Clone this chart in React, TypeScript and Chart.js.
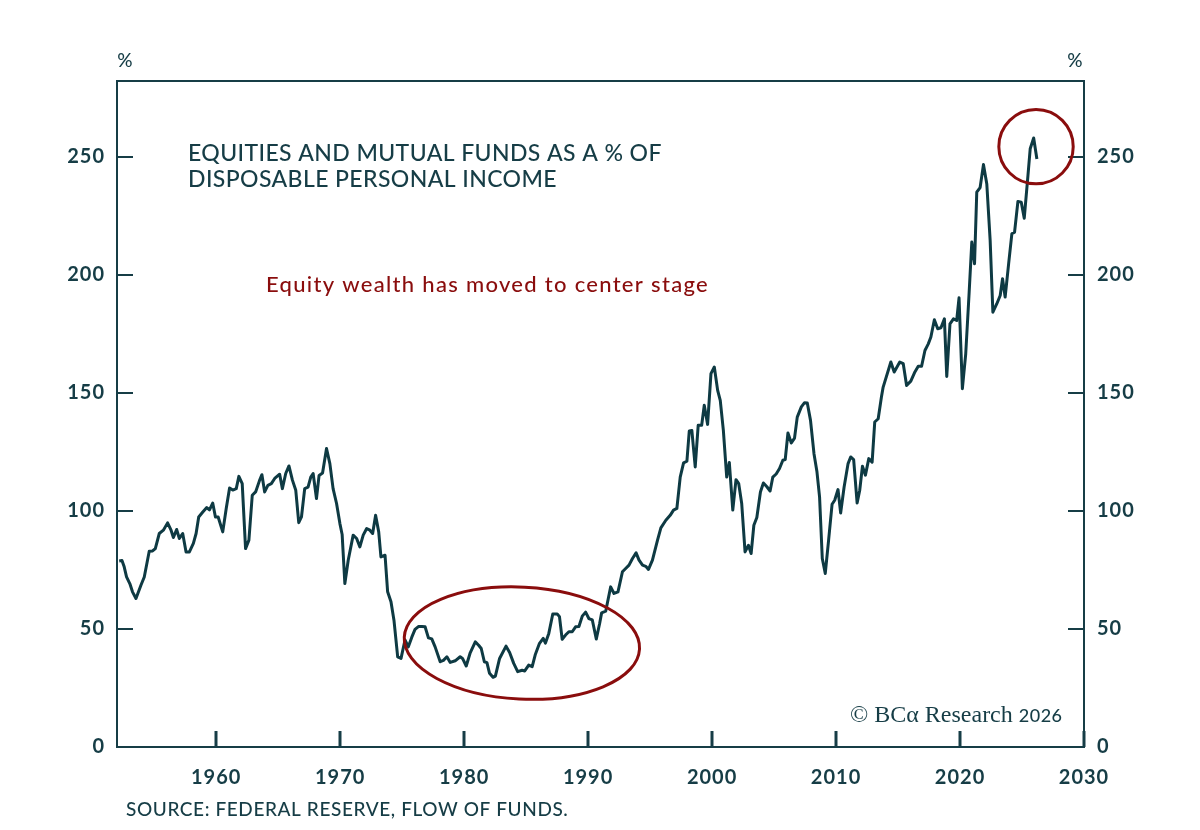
import React, { useEffect, useRef } from "react";
import { Chart, registerables } from "chart.js";

Chart.register(...registerables);

// ---- Data ----
const years = [
  1952.18, 1952.4, 1952.58, 1952.77, 1953.04, 1953.25, 1953.53, 1953.93, 1954.2, 1954.6,
  1954.87, 1955.09, 1955.41, 1955.74, 1956.08, 1956.36, 1956.55, 1956.81, 1957.03, 1957.3,
  1957.57, 1957.84, 1958.16, 1958.38, 1958.59, 1958.92, 1959.24, 1959.46, 1959.72, 1959.94,
  1960.16, 1960.53, 1960.81, 1961.08, 1961.34, 1961.62, 1961.83, 1962.1, 1962.37, 1962.64,
  1962.91, 1963.18, 1963.5, 1963.69, 1963.91, 1964.17, 1964.45, 1964.72, 1965.12, 1965.34,
  1965.61, 1965.87, 1966.15, 1966.42, 1966.66, 1966.88, 1967.14, 1967.41, 1967.63, 1967.82,
  1968.09, 1968.3, 1968.58, 1968.9, 1969.17, 1969.43, 1969.71, 1969.98, 1970.16, 1970.38,
  1970.65, 1971.05, 1971.33, 1971.59, 1971.86, 1972.14, 1972.4, 1972.62, 1972.86, 1973.11,
  1973.29, 1973.62, 1973.83, 1974.1, 1974.34, 1974.64, 1974.91, 1975.23, 1975.5, 1975.78,
  1976.04, 1976.31, 1976.59, 1976.85, 1977.12, 1977.39, 1977.66, 1978.07, 1978.33, 1978.61,
  1978.88, 1979.28, 1979.68, 1979.87, 1980.17, 1980.49, 1980.9, 1981.17, 1981.38, 1981.63,
  1981.84, 1982.05, 1982.33, 1982.52, 1982.86, 1983.38, 1983.67, 1984.0, 1984.32, 1984.68,
  1984.89, 1985.21, 1985.49, 1985.75, 1986.08, 1986.38, 1986.56, 1986.83, 1987.15, 1987.51,
  1987.69, 1987.91, 1988.18, 1988.45, 1988.72, 1988.99, 1989.26, 1989.53, 1989.8, 1990.06,
  1990.34, 1990.66, 1990.93, 1991.09, 1991.42, 1991.82, 1992.09, 1992.41, 1992.77, 1993.03,
  1993.3, 1993.58, 1993.87, 1994.11, 1994.39, 1994.65, 1994.87, 1995.19, 1995.6, 1995.87,
  1996.27, 1996.62, 1996.89, 1997.16, 1997.43, 1997.7, 1997.97, 1998.16, 1998.37, 1998.64,
  1998.88, 1999.16, 1999.37, 1999.64, 1999.91, 2000.18, 2000.45, 2000.66, 2000.91, 2001.18,
  2001.39, 2001.67, 2001.93, 2002.15, 2002.39, 2002.66, 2002.93, 2003.15, 2003.37, 2003.61,
  2003.9, 2004.14, 2004.42, 2004.68, 2004.9, 2005.17, 2005.44, 2005.71, 2005.9, 2006.12,
  2006.39, 2006.65, 2006.87, 2007.2, 2007.46, 2007.68, 2007.94, 2008.22, 2008.46, 2008.67,
  2008.89, 2009.13, 2009.4, 2009.68, 2009.89, 2010.16, 2010.37, 2010.65, 2010.97, 2011.18,
  2011.42, 2011.7, 2011.91, 2012.13, 2012.37, 2012.64, 2012.91, 2013.12, 2013.4, 2013.66,
  2013.8, 2014.42, 2014.69, 2015.14, 2015.42, 2015.69, 2016.03, 2016.36, 2016.63, 2016.9,
  2017.17, 2017.44, 2017.65, 2017.93, 2018.2, 2018.46, 2018.74, 2018.93, 2019.19, 2019.47,
  2019.73, 2019.92, 2020.19, 2020.46, 2020.73, 2020.95, 2021.17, 2021.35, 2021.62, 2021.89,
  2022.16, 2022.43, 2022.65, 2022.97, 2023.24, 2023.43, 2023.64, 2023.92, 2024.18, 2024.4,
  2024.67, 2024.94, 2025.18, 2025.48, 2025.66, 2025.94, 2026.2,
];

const values = [
  78.8, 79.0, 76.3, 72.0, 69.1, 65.7, 62.9, 68.5, 72.0, 82.9,
  83.0, 84.0, 90.4, 91.8, 94.9, 91.8, 88.7, 92.1, 88.3, 90.4,
  82.6, 82.6, 86.2, 90.4, 97.4, 99.5, 101.4, 100.4, 103.3, 97.4,
  97.4, 91.1, 101.0, 109.7, 108.8, 109.4, 114.6, 111.5, 84.0, 87.6,
  106.6, 108.0, 112.9, 115.3, 108.0, 110.8, 111.5, 113.7, 115.5, 109.4,
  115.8, 119.0, 113.0, 108.7, 95.0, 97.4, 109.4, 110.0, 114.3, 115.8,
  105.2, 115.0, 116.0, 126.4, 120.0, 109.4, 103.1, 94.6, 90.0, 69.2,
  79.1, 89.7, 88.3, 84.7, 89.7, 92.5, 91.8, 90.4, 98.1, 91.1,
  80.5, 81.2, 65.7, 61.5, 53.7, 38.2, 37.5, 45.3, 42.4, 46.5,
  49.8, 51.0, 51.0, 50.9, 46.2, 45.8, 42.4, 36.1, 36.7, 38.2,
  35.8, 36.5, 38.2, 37.5, 34.3, 39.9, 44.5, 43.1, 41.7, 36.1,
  35.7, 31.2, 29.5, 30.0, 37.5, 42.7, 40.0, 35.4, 31.9, 32.5,
  32.2, 34.7, 34.0, 39.3, 43.9, 46.0, 44.0, 48.1, 56.3, 56.3,
  55.2, 45.6, 47.4, 48.8, 48.8, 50.9, 51.0, 55.4, 57.1, 54.4,
  53.8, 45.7, 52.3, 56.8, 57.5, 67.8, 65.0, 65.7, 74.2, 75.6,
  77.0, 79.8, 82.2, 79.1, 77.0, 76.5, 75.2, 79.1, 87.6, 92.8,
  96.0, 98.1, 100.3, 101.0, 114.3, 120.3, 121.0, 133.8, 134.0, 118.6,
  136.2, 136.2, 144.7, 136.6, 158.1, 160.9, 151.0, 146.8, 134.1, 114.3,
  120.5, 100.3, 113.2, 111.5, 103.1, 82.6, 85.4, 81.9, 93.9, 97.2,
  108.0, 111.8, 110.2, 108.4, 114.3, 115.6, 117.9, 121.4, 121.7, 133.0,
  128.7, 130.8, 139.7, 144.0, 145.8, 145.7, 138.3, 124.2, 116.5, 105.9,
  79.8, 73.5, 87.6, 102.8, 104.5, 109.0, 99.1, 110.1, 120.0, 122.8,
  121.7, 103.3, 108.7, 118.9, 115.1, 122.1, 120.6, 137.6, 139.0, 148.2,
  152.4, 163.0, 158.8, 163.0, 162.3, 153.1, 154.9, 158.8, 161.2, 161.2,
  167.9, 170.7, 173.6, 180.9, 177.1, 177.5, 181.3, 156.9, 179.2, 181.3,
  180.6, 190.2, 151.7, 166.5, 191.9, 213.8, 204.6, 234.9, 236.9, 246.6,
  238.4, 214.5, 184.1, 187.7, 191.2, 198.3, 190.5, 204.6, 217.3, 218.0,
  231.0, 230.7, 223.9, 242.0, 253.3, 257.9, 249.0,
];

const xTickYears = [1960, 1970, 1980, 1990, 2000, 2010, 2020, 2030];
const yTickValues = [0, 50, 100, 150, 200, 250];

const titleLines = ["EQUITIES AND MUTUAL FUNDS AS A % OF", "DISPOSABLE PERSONAL INCOME"];
const subtitle = "Equity wealth has moved to center stage";
const sourceText = "SOURCE: FEDERAL RESERVE, FLOW OF FUNDS.";

// Highlight shapes, in data units (year, %)
const lowEllipse = { year: 1984.66, value: 44, halfYears: 9.5, halfValue: 23.7, rotation: 0.05 };
const peakCircle = { year: 2026.13, value: 254.2, radiusYears: 3.0 };

const INK = "#163d46";
const LINE = "#0e3a43";
const RED = "#8a0d0d";
const FONT = "Lato, 'Open Sans', sans-serif";

const overlayPlugin = {
  id: "overlay",
  beforeDraw(chart: any) {
    // wider tracking for the axis tick labels (drawn by Chart.js)
    chart.ctx.letterSpacing = "1px";
  },
  beforeDatasetsDraw(chart: any) {
    const { ctx, chartArea: a, scales } = chart;
    ctx.save();
    ctx.strokeStyle = INK;
    ctx.lineWidth = 2;
    ctx.strokeRect(a.left, a.top, a.right - a.left, a.bottom - a.top);
    ctx.lineWidth = 3;
    for (const yr of xTickYears) {
      const px = Math.round(scales.x.getPixelForValue(yr));
      ctx.beginPath();
      ctx.moveTo(px, a.bottom);
      ctx.lineTo(px, a.bottom - 16);
      ctx.stroke();
    }
    ctx.lineWidth = 2;
    for (const v of yTickValues) {
      const py = Math.round(scales.y.getPixelForValue(v));
      ctx.beginPath();
      ctx.moveTo(a.left, py);
      ctx.lineTo(a.left + 16, py);
      ctx.moveTo(a.right, py);
      ctx.lineTo(a.right - 16, py);
      ctx.stroke();
    }
    ctx.restore();
  },
  afterDraw(chart: any) {
    const { ctx, scales } = chart;
    const xs = scales.x;
    const ys = scales.y;
    ctx.save();
    // % labels
    ctx.fillStyle = INK;
    ctx.letterSpacing = "0px";
    ctx.font = `500 19px ${FONT}`;
    ctx.textAlign = "center";
    ctx.textBaseline = "alphabetic";
    ctx.fillText("%", 125, 67);
    ctx.fillText("%", 1075, 67);
    // title
    ctx.textAlign = "left";
    ctx.font = `500 23px ${FONT}`;
    ctx.letterSpacing = "0.4px";
    ctx.fillText(titleLines[0], 188, 161);
    ctx.fillText(titleLines[1], 188, 187);
    // subtitle
    ctx.fillStyle = RED;
    ctx.font = `500 22px ${FONT}`;
    ctx.letterSpacing = "1.3px";
    ctx.fillText(subtitle, 266, 292);
    // source
    ctx.fillStyle = INK;
    ctx.font = `500 19px ${FONT}`;
    ctx.letterSpacing = "0.6px";
    ctx.fillText(sourceText, 126, 816);
    // copyright
    ctx.letterSpacing = "0px";
    ctx.font = `24px 'Liberation Serif', 'DejaVu Serif', serif`;
    const cp = "\u00A9 BC\u03B1 Research ";
    ctx.fillText(cp, 850, 722);
    const w = ctx.measureText(cp).width;
    ctx.font = `500 18px ${FONT}`;
    ctx.letterSpacing = "0.5px";
    ctx.fillText("2026", 850 + w, 722);
    ctx.letterSpacing = "0px";

    // highlight shapes
    ctx.strokeStyle = RED;
    ctx.lineWidth = 3;
    const cx = xs.getPixelForValue(lowEllipse.year);
    const cy = ys.getPixelForValue(lowEllipse.value);
    const rx = Math.abs(xs.getPixelForValue(lowEllipse.year + lowEllipse.halfYears) - cx);
    const ry = Math.abs(ys.getPixelForValue(lowEllipse.value + lowEllipse.halfValue) - cy);
    ctx.beginPath();
    ctx.ellipse(cx, cy, rx, ry, lowEllipse.rotation, 0, Math.PI * 2);
    ctx.stroke();
    const ccx = xs.getPixelForValue(peakCircle.year);
    const ccy = ys.getPixelForValue(peakCircle.value);
    const r = Math.abs(xs.getPixelForValue(peakCircle.year + peakCircle.radiusYears) - ccx);
    ctx.beginPath();
    ctx.arc(ccx, ccy, r, 0, Math.PI * 2);
    ctx.stroke();
    ctx.restore();
  },
};

export default function App() {
  const ref = useRef<HTMLCanvasElement | null>(null);
  useEffect(() => {
    if (!ref.current) return;
    const tickFont = { family: FONT, size: 20, weight: "bold" as const };
    const chart = new Chart(ref.current, {
      type: "line",
      data: {
        datasets: [
          {
            data: years.map((x, i) => ({ x, y: values[i] })),
            borderColor: LINE,
            borderWidth: 3,
            pointRadius: 0,
            tension: 0,
            yAxisID: "y",
            borderJoinStyle: "round",
          },
        ],
      },
      options: {
        animation: false,
        responsive: false,
        events: [],
        layout: { padding: { top: 81, left: 0, right: 0, bottom: 0 } },
        plugins: { legend: { display: false }, tooltip: { enabled: false } },
        scales: {
          x: {
            type: "linear",
            min: 1952,
            max: 2030,
            grid: { display: false, drawTicks: false },
            border: { display: false },
            ticks: {
              stepSize: 10,
              includeBounds: false,
              autoSkip: false,
              maxRotation: 0,
              padding: 19,
              color: INK,
              font: tickFont,
              callback: (v: any) => (xTickYears.includes(Number(v)) ? String(v) : ""),
            },
            afterFit: (s: any) => {
              s.height = 83;
            },
          },
          y: {
            type: "linear",
            position: "left",
            min: 0,
            max: 282,
            grid: { display: false, drawTicks: false },
            border: { display: false },
            ticks: {
              stepSize: 50,
              includeBounds: false,
              padding: 12,
              color: INK,
              font: tickFont,
              callback: (v: any) => (yTickValues.includes(Number(v)) ? String(v) : ""),
            },
            afterFit: (s: any) => {
              s.width = 117;
            },
          },
          y2: {
            type: "linear",
            position: "right",
            min: 0,
            max: 282,
            grid: { display: false, drawTicks: false },
            border: { display: false },
            ticks: {
              stepSize: 50,
              includeBounds: false,
              padding: 13,
              color: INK,
              font: tickFont,
              callback: (v: any) => (yTickValues.includes(Number(v)) ? String(v) : ""),
            },
            afterFit: (s: any) => {
              s.width = 116;
            },
          },
        },
      },
      plugins: [overlayPlugin],
    } as any);
    return () => chart.destroy();
  }, []);
  return (
    <div style={{ position: "fixed", left: 0, top: 0, width: 1200, height: 830, background: "#fff" }}>
      <canvas ref={ref} width={1200} height={830} style={{ display: "block" }} />
    </div>
  );
}
